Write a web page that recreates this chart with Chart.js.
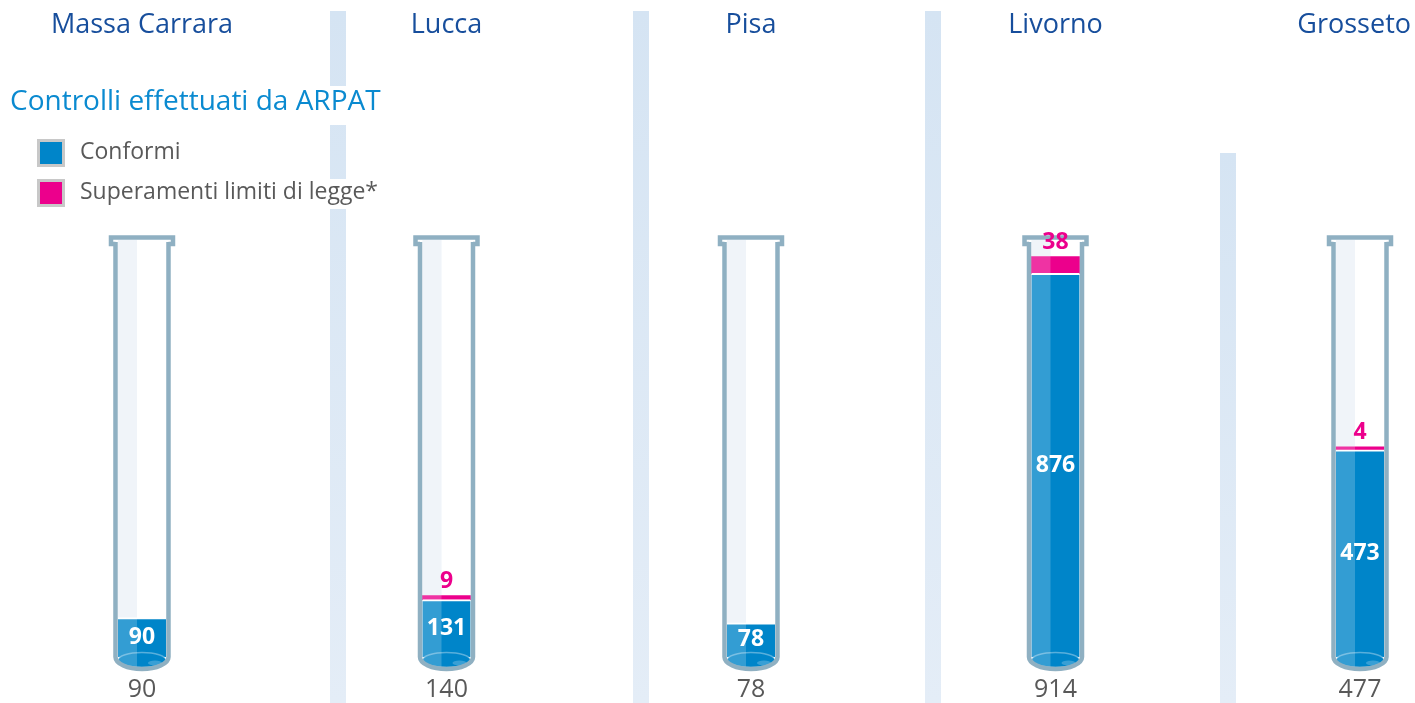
<!DOCTYPE html>
<html>
<head>
<meta charset="utf-8">
<script src="https://cdn.jsdelivr.net/npm/chart.js@4.4.1/dist/chart.umd.min.js"></script>
<style>
  html, body { margin: 0; padding: 0; background: #fff; }
  canvas { display: block; }
</style>
</head>
<body>
<canvas id="tubes" width="1415" height="703"></canvas>
<script>
// ── Data ─────────────────────────────────────────────────────────────────────

const districts   = ['Massa Carrara', 'Lucca', 'Pisa', 'Livorno', 'Grosseto'];
const conformi    = [90, 131, 78, 876, 473];
const superamenti = [0, 9, 0, 38, 4];
const totals      = [90, 140, 78, 914, 477];

const chartTitle  = 'Controlli effettuati da ARPAT';
const seriesNames = ['Conformi', 'Superamenti limiti di legge*'];

// ── Colours / fonts ──────────────────────────────────────────────────────────

const BLUE   = '#0085c9';
const PINK   = '#ec008c';
const WALL   = '#8fb0c2';
const FONT   = '"Open Sans", "Noto Sans", sans-serif';

// ── Decoration plugin: separators, titles, legend, tubes, labels ─────────────

const tubePlugin = {
    id: 'tubes',
    beforeDraw(chart) {
        const ctx = chart.ctx;
        ctx.save();
        ctx.fillStyle = '#fff';
        ctx.fillRect(0, 0, chart.width, chart.height);

        // light blue separators
        [[330, 11], [633, 11], [925, 11], [1220, 153]].forEach(([x, top]) => {
            const g = ctx.createLinearGradient(0, top, 0, chart.height);
            g.addColorStop(0, '#d5e4f3');
            g.addColorStop(1, '#e4edf7');
            ctx.fillStyle = g;
            ctx.fillRect(x, top, 16, chart.height - top);
        });

        // district names (kept inside the canvas)
        const xs = chart.scales.x;
        ctx.font = '27px ' + FONT;
        ctx.fillStyle = '#174e9c';
        ctx.textAlign = 'center';
        ctx.textBaseline = 'middle';
        districts.forEach((d, i) => {
            const half = ctx.measureText(d).width / 2;
            let cx = xs.getPixelForValue(i);
            cx = Math.min(cx, chart.width - 4 - half);
            ctx.fillText(d, cx, 25);
        });

        // subtitle with white band behind it
        ctx.font = '28px ' + FONT;
        ctx.textAlign = 'left';
        let w = ctx.measureText(chartTitle).width;
        ctx.fillStyle = '#fff';
        ctx.fillRect(6, 86, w + 10, 39);
        ctx.fillStyle = '#0a8ad0';
        ctx.fillText(chartTitle, 10, 102);

        // legend
        const cols = chart.data.datasets.map(ds => ds.backgroundColor);
        ctx.font = '23px ' + FONT;
        chart.data.datasets.forEach((ds, k) => {
            const y = 139 + k * 40;
            w = ctx.measureText(ds.label).width;
            ctx.fillStyle = '#fff';
            ctx.fillRect(76, y, w + 8, 30);
            ctx.fillStyle = '#c8c8c8';
            ctx.fillRect(37, y, 28, 28);
            ctx.fillStyle = cols[k];
            ctx.fillRect(40, y + 3, 22, 22);
            ctx.fillStyle = '#595959';
            ctx.fillText(ds.label, 80, y + 13);
        });
        ctx.restore();
    },
    beforeDatasetsDraw(chart) {
        const ctx = chart.ctx, xs = chart.scales.x, ys = chart.scales.y;
        const base = ys.getPixelForValue(0);
        ctx.save();
        districts.forEach((d, i) => {
            const px = xs.getPixelForValue(i);
            ctx.fillStyle = '#edf2f8';
            ctx.fillRect(px - 24, 240, 19, base - 240);
        });
        ctx.restore();
    },
    afterDatasetsDraw(chart) {
        const ctx = chart.ctx, xs = chart.scales.x, ys = chart.scales.y;
        const base = ys.getPixelForValue(0);
        const m0 = chart.getDatasetMeta(0), m1 = chart.getDatasetMeta(1);
        ctx.save();
        districts.forEach((d, i) => {
            const px = xs.getPixelForValue(i);

            // liquid bottom
            ctx.fillStyle = BLUE;
            ctx.beginPath();
            ctx.ellipse(px, base + 3, 24, 7.5, 0, 0, Math.PI * 2);
            ctx.fill();
            ctx.strokeStyle = 'rgba(255,255,255,0.35)';
            ctx.lineWidth = 1.5;
            ctx.stroke();
            ctx.fillStyle = 'rgba(255,255,255,0.22)';
            ctx.beginPath();
            ctx.ellipse(px + 13, base + 6, 7, 2.6, 0, 0, Math.PI * 2);
            ctx.fill();

            // glass highlight on the left side
            ctx.fillStyle = 'rgba(255,255,255,0.2)';
            ctx.fillRect(px - 24, 240, 19, base + 12 - 240);

            // walls
            ctx.strokeStyle = WALL;
            ctx.lineWidth = 4.5;
            ctx.lineJoin = 'miter';
            ctx.beginPath();
            ctx.moveTo(px - 26.5, 242);
            ctx.lineTo(px - 26.5, base);
            ctx.ellipse(px, base, 26.5, 12, 0, Math.PI, 0, true);
            ctx.lineTo(px + 26.5, 242);
            ctx.stroke();
            ctx.beginPath();
            ctx.moveTo(px - 26.5, 244);
            ctx.lineTo(px - 31, 244);
            ctx.lineTo(px - 31, 237.5);
            ctx.lineTo(px + 31, 237.5);
            ctx.lineTo(px + 31, 244);
            ctx.lineTo(px + 26.5, 244);
            ctx.stroke();

            // labels
            ctx.textAlign = 'center';
            ctx.textBaseline = 'middle';
            const b = m0.data[i];
            ctx.font = 'bold 23px ' + FONT;
            ctx.fillStyle = '#fff';
            ctx.fillText(conformi[i], px, (b.y + b.base) / 2);
            if (superamenti[i]) {
                const p = m1.data[i];
                ctx.fillStyle = PINK;
                ctx.fillText(superamenti[i], px, p.y - 14);
            }
            ctx.font = '25px ' + FONT;
            ctx.fillStyle = '#595959';
            ctx.fillText(totals[i], px, 690);
        });
        ctx.restore();
    }
};

// ── Chart ────────────────────────────────────────────────────────────────────

new Chart(document.getElementById('tubes'), {
    type: 'bar',
    data: {
        datasets: [
            {
                label: seriesNames[0],
                data: conformi.map((v, i) => ({ x: i, y: v })),
                backgroundColor: BLUE,
                borderColor: '#fff',
                borderWidth: { top: 2, left: 0, right: 0, bottom: 0 },
                borderSkipped: false,
            },
            {
                label: seriesNames[1],
                data: superamenti.map((v, i) => ({ x: i, y: v || null })),
                backgroundColor: PINK,
                borderWidth: 0,
                minBarLength: 3,
            }
        ]
    },
    options: {
        responsive: false,
        animation: false,
        layout: { padding: { top: 0, bottom: 46, left: 0, right: 0 } },
        datasets: { bar: { barThickness: 48 } },
        plugins: { legend: { display: false }, tooltip: { enabled: false } },
        scales: {
            x: { type: 'linear', min: -0.4663, max: 4.1806, offset: false, stacked: true, display: false },
            y: { min: 0, max: 1500, stacked: true, display: false }
        }
    },
    plugins: [tubePlugin]
});
</script>
</body>
</html>
